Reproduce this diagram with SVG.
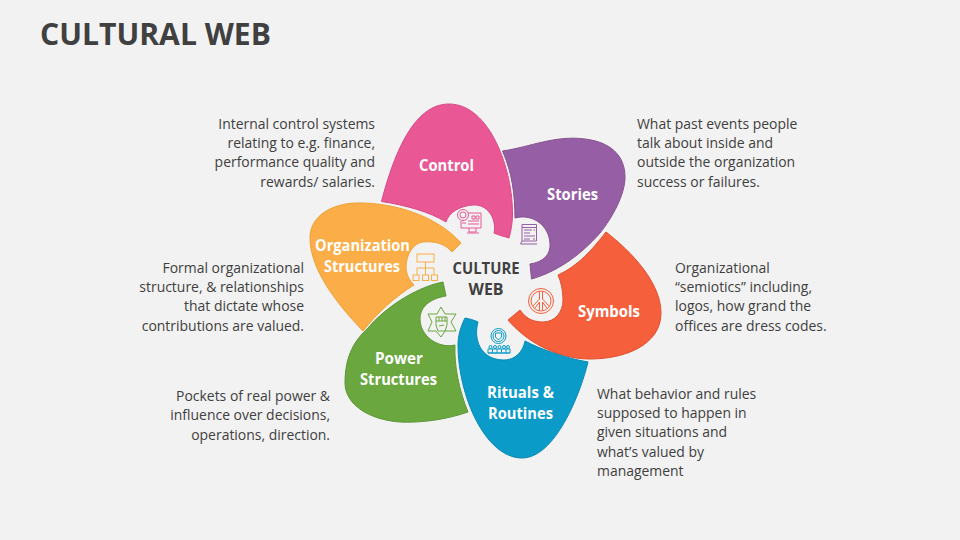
<svg xmlns="http://www.w3.org/2000/svg" width="960" height="540" viewBox="0 0 960 540">
<style>
text{font-family:"Open Sans","Noto Sans","Liberation Sans",sans-serif}
.t{font-size:13.95px;fill:#404040}
.e{text-anchor:end}
.l{font-size:16.500px;font-weight:700;fill:#fff;text-anchor:middle}
.c{font-size:16.500px;font-weight:700;fill:#404040;text-anchor:middle}
.i{fill:none;stroke-width:1}
</style>
<rect width="960" height="540" fill="#f2f2f2"/>
<text x="40" y="45" font-size="31" font-weight="700" fill="#404040" textLength="231" lengthAdjust="spacingAndGlyphs">CULTURAL WEB</text>
<g id="connectors"></g>
<g id="node-control">
<path d="M381.500 201.500C395 150 415 104 449 104C490 104 513 170 512.500 215C512.500 222 511 231 509 238C503 236 498 235 494 233C497 218 487 204 473 205C460 206 449 212 446 222C430 212 405 205 381.500 201.500Z" fill="#ea5795" stroke="#d84a86"/>
<text class="l" x="446.500" y="171" textLength="55" lengthAdjust="spacingAndGlyphs">Control</text>
<g class="i" stroke="#ea5795"><circle cx="463" cy="215" r="5.500"/><circle cx="463" cy="215" r="3"/><path d="M468 213H481V228H461V221M472 216H475V219H472ZM476 216H479V219H476ZM462 223H466M468 221H479M468 224H479M469 228V232H476V228M467 233H479"/></g>
</g>
<g id="node-stories">
<path d="M502.500 151C530 147 555 135 585 139C610 142 625 155 625 177C625 195 612 218 600 233C580 256 556 272 531.500 279L530 264C543 262 551 255 550 243C549 226 533 213 515 218C515 195 512 172 502.500 151Z" fill="#965fa5" stroke="#85518f"/>
<text class="l" x="572.500" y="200" textLength="51" lengthAdjust="spacingAndGlyphs">Stories</text>
<g class="i" stroke="#965fa5"><path d="M522 224.500H536.500V241H522ZM522 227.500H536.500M524 230H532M533.500 230H535M524 233H530M524 236H535M524 239H530M533 239H535M520.500 244H537M520.500 244L522 241"/></g>
</g>
<g id="node-symbols">
<path d="M606 232C632 252 661 283 661 313C661 345 625 359 590 359C555 359 525 340 508 320L520 310C527 320 535 322 543 322C555 322 563 312 563 300C563 290 561 282 558 275C578 266 592 250 606 232Z" fill="#f55f3c" stroke="#e14f2e"/>
<text class="l" x="609" y="317" textLength="62" lengthAdjust="spacingAndGlyphs">Symbols</text>
<g class="i" stroke="#f55f3c"><circle cx="541" cy="301" r="12.500"/><circle cx="541" cy="301" r="10"/><path d="M539.500 291.500V299L533 306M542.500 291.500V299L549 306M539.500 302L535 308M542.500 302L547 308M539.500 302V310M542.500 302V310"/></g>
</g>
<g id="node-rituals">
<path d="M465 318C470 319 474 320 478 322C473 340 481 360 504 360C515 360 523 352 525 341C540 349 565 358 588 362C580 395 555 458 522 458C485 458 458 395 458 345C458 335 461 326 465 318Z" fill="#0a9bc9" stroke="#0a8ab3"/>
<text class="l" x="520.500" y="398" textLength="67" lengthAdjust="spacingAndGlyphs">Rituals &amp;</text>
<text class="l" x="520.500" y="419" textLength="65" lengthAdjust="spacingAndGlyphs">Routines</text>
<g class="i" stroke="#0a9bc9"><circle cx="498.500" cy="336" r="7.500"/><circle cx="498.500" cy="336" r="5.500"/><path d="M495.500 333H501.500V337L498.500 340L495.500 337Z"/><path d="M488 353V349H510V353ZM488 353H510M492.500 349V353M497 349V353M501.500 349V353M506 349V353"/><circle cx="490.500" cy="347" r="1.500"/><circle cx="495" cy="347" r="1.500"/><circle cx="499.500" cy="347" r="1.500"/><circle cx="504" cy="347" r="1.500"/><circle cx="508" cy="347" r="1.500"/></g>
</g>
<g id="node-organization">
<path d="M461 243L452 252C445 243 433 241 423 242C413 243 406 255 406 267C406 274 409 280 414 285C396 296 378 312 363 331C338 305 310 270 310 238C310 215 333 204 355 203C392 202 436 215 461 243Z" fill="#fbae47" stroke="#f0a035"/>
<text class="l" x="362.500" y="251" textLength="95" lengthAdjust="spacingAndGlyphs">Organization</text>
<text class="l" x="362" y="272" textLength="76" lengthAdjust="spacingAndGlyphs">Structures</text>
<g class="i" stroke="#fbae47" stroke-width="1.300"><rect x="417" y="254" width="17" height="8"/><path d="M425.500 262V268M417 275V268H434V275M425.500 268V275"/><rect x="413" y="275" width="6" height="5.500"/><rect x="422.500" y="275" width="6" height="5.500"/><rect x="431.500" y="275" width="6" height="5.500"/></g>
</g>
<g id="node-power">
<path d="M443 282L446 296C433 298 420 305 420 319C420 335 437 349 455 345C454 365 459 390 468 412C445 420 420 423 400 422C370 420 345 405 345 383C345 355 355 340 368 328C383 310 413 288 443 282Z" fill="#6aa83f" stroke="#5e9737"/>
<text class="l" x="399" y="364" textLength="48" lengthAdjust="spacingAndGlyphs">Power</text>
<text class="l" x="398.500" y="385" textLength="77" lengthAdjust="spacingAndGlyphs">Structures</text>
<g class="i" stroke="#6aa83f"><path d="M441 307L445 314L456 314L451 322L456 331L445 331L441 337L436 331L428 331L432 322L428 314L437 314Z"/><path d="M436 317H447V325L445 331H438L436 325ZM439 317V321M442 317V321M445 317V321M436 321H447M439 326L444 325"/></g>
</g>
<g id="node-center">
<text class="c" x="486" y="274" textLength="67" lengthAdjust="spacingAndGlyphs">CULTURE</text>
<text class="c" x="486" y="295" textLength="35" lengthAdjust="spacingAndGlyphs">WEB</text>
</g>
<g id="text-control"><text class="t e" x="375" y="129">Internal control systems</text><text class="t e" x="375" y="148">relating to e.g. finance,</text><text class="t e" x="375" y="167">performance quality and</text><text class="t e" x="375" y="187">rewards/ salaries.</text></g>
<g id="text-stories"><text class="t" x="637" y="129">What past events people</text><text class="t" x="637" y="148">talk about inside and</text><text class="t" x="637" y="167">outside the organization</text><text class="t" x="637" y="187">success or failures.</text></g>
<g id="text-symbols"><text class="t" x="675" y="273">Organizational</text><text class="t" x="675" y="292">“semiotics” including,</text><text class="t" x="675" y="311">logos, how grand the</text><text class="t" x="675" y="331">offices are dress codes.</text></g>
<g id="text-org"><text class="t e" x="304" y="273">Formal organizational</text><text class="t e" x="304" y="292">structure, &amp; relationships</text><text class="t e" x="304" y="311">that dictate whose</text><text class="t e" x="304" y="331">contributions are valued.</text></g>
<g id="text-power"><text class="t e" x="330" y="401">Pockets of real power &amp;</text><text class="t e" x="330" y="420">influence over decisions,</text><text class="t e" x="330" y="440">operations, direction.</text></g>
<g id="text-rituals"><text class="t" x="597" y="399">What behavior and rules</text><text class="t" x="597" y="418">supposed to happen in</text><text class="t" x="597" y="437">given situations and</text><text class="t" x="597" y="457">what’s valued by</text><text class="t" x="597" y="476">management</text></g>
</svg>
